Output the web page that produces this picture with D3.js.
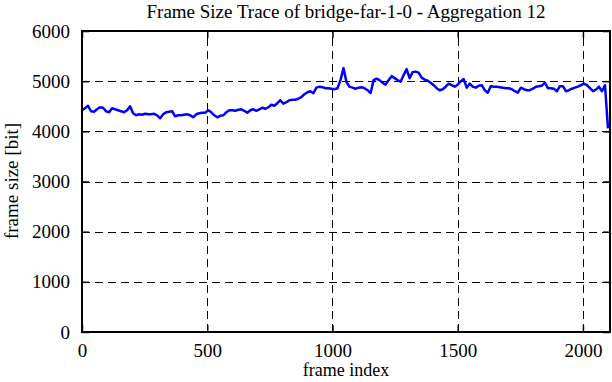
<!DOCTYPE html>
<html>
<head>
<meta charset="utf-8" />
<style>
body { margin:0; background:#fff; }
text { font-family: "Liberation Serif", "DejaVu Serif", serif; fill:#000; }
</style>
</head>
<body>
<svg id="chart" width="612" height="382" xmlns="http://www.w3.org/2000/svg"></svg>
<script src="https://cdn.jsdelivr.net/npm/d3@7"></script>
<script>

// frame size per aggregated sample (12 frames each)
var frameSize = [
	4420,4460,4510,4400,4390,4440,4480,4470,4400,4380,
	4460,4440,4420,4400,4380,4420,4500,4360,4320,4340,
	4330,4350,4340,4340,4350,4320,4260,4340,4380,4390,
	4400,4300,4320,4320,4330,4340,4320,4280,4340,4360,
	4370,4370,4420,4380,4320,4280,4310,4320,4380,4420,
	4420,4410,4430,4440,4410,4370,4420,4440,4410,4440,
	4470,4450,4480,4530,4510,4560,4620,4550,4580,4620,
	4630,4630,4650,4680,4740,4780,4800,4760,4870,4890,
	4880,4860,4860,4850,4840,4860,5020,5260,4980,4890,
	4870,4850,4870,4880,4860,4820,4760,5020,5050,5020,
	4970,4930,5020,5100,5060,5020,4990,5120,5240,5060,
	5180,5190,5170,5070,5030,5010,4970,4920,4860,4820,
	4840,4890,4950,4920,4890,4930,5000,5040,4870,4950,
	4890,4870,4910,4920,4820,4770,4900,4890,4890,4880,
	4870,4860,4860,4840,4800,4770,4870,4840,4820,4820,
	4850,4890,4900,4910,4970,4860,4860,4850,4800,4900,
	4900,4800,4820,4850,4870,4890,4920,4950,4920,4860,
	4800,4830,4890,4800,4920,4060
];
var aggregation = 12;
var xTicks = [0, 500, 1000, 1500, 2000];
var yTicks = [0, 1000, 2000, 3000, 4000, 5000, 6000];
var titleText = "Frame Size Trace of bridge-far-1-0 - Aggregation 12";
var xLabel = "frame index";
var yLabel = "frame size [bit]";

var W = 612, H = 382;
var m = {left:82, right:2, top:31, bottom:50};

var svg = d3.select("#chart");

var x = d3.scaleLinear().domain([0, 2108]).range([m.left, W - m.right]);
var y = d3.scaleLinear().domain([0, 6000]).range([H - m.bottom, m.top]);

// grid
var grid = svg.append("g").attr("stroke","#000").attr("stroke-width",1).attr("stroke-dasharray","8,5");
grid.selectAll(".gx").data(xTicks.filter(function(d){ return d > 0; })).enter().append("line")
	.attr("x1", function(d){ return Math.round(x(d)) + .5; })
	.attr("x2", function(d){ return Math.round(x(d)) + .5; })
	.attr("y1", y(0)).attr("y2", y(6000));
grid.selectAll(".gy").data(yTicks.filter(function(d){ return d > 0 && d < 6000; })).enter().append("line")
	.attr("y1", function(d){ return Math.round(y(d)) + .5; })
	.attr("y2", function(d){ return Math.round(y(d)) + .5; })
	.attr("x1", x(0)).attr("x2", x.range()[1]);

// axes with mirrored ticks
var ax = d3.axisBottom(x).tickValues(xTicks).tickSize(-7).tickPadding(12).tickFormat(d3.format("d"));
var axTop = d3.axisTop(x).tickValues(xTicks).tickSize(-7).tickFormat("");
var ay = d3.axisLeft(y).tickValues(yTicks).tickSize(-7).tickPadding(12).tickFormat(d3.format("d"));
var ayRight = d3.axisRight(y).tickValues(yTicks).tickSize(-7).tickFormat("");

function styleAxis(g) {
	g.select(".domain").remove();
	g.selectAll(".tick line").attr("stroke","#000").attr("stroke-width",1.5);
	g.selectAll("text").attr("font-size",19).attr("font-family","Liberation Serif, serif");
}
svg.append("g").attr("transform","translate(0," + y(0) + ")").call(ax).call(styleAxis);
svg.append("g").attr("transform","translate(0," + y(6000) + ")").call(axTop).call(styleAxis);
svg.append("g").attr("transform","translate(" + x(0) + ",0)").call(ay).call(styleAxis);
svg.append("g").attr("transform","translate(" + x.range()[1] + ",0)").call(ayRight).call(styleAxis);

// data line
var line = d3.line()
	.x(function(d, i){ return x(i * aggregation); })
	.y(function(d){ return y(d); });
svg.append("path").datum(frameSize)
	.attr("d", line)
	.attr("fill","none")
	.attr("stroke","#0000ff")
	.attr("stroke-width",2.5)
	.attr("stroke-linejoin","round");

// border
svg.append("rect")
	.attr("x", x(0)).attr("y", y(6000))
	.attr("width", x.range()[1] - x(0)).attr("height", y(0) - y(6000))
	.attr("fill","none").attr("stroke","#000").attr("stroke-width",2);

// labels
svg.append("text").attr("x", 346).attr("y", 18).attr("text-anchor","middle")
	.attr("font-size",19).text(titleText);
svg.append("text").attr("x", 346).attr("y", 376).attr("text-anchor","middle")
	.attr("font-size",18).text(xLabel);
svg.append("text").attr("transform","translate(18,181) rotate(-90)").attr("text-anchor","middle")
	.attr("font-size",19).text(yLabel);

</script>
</body>
</html>
